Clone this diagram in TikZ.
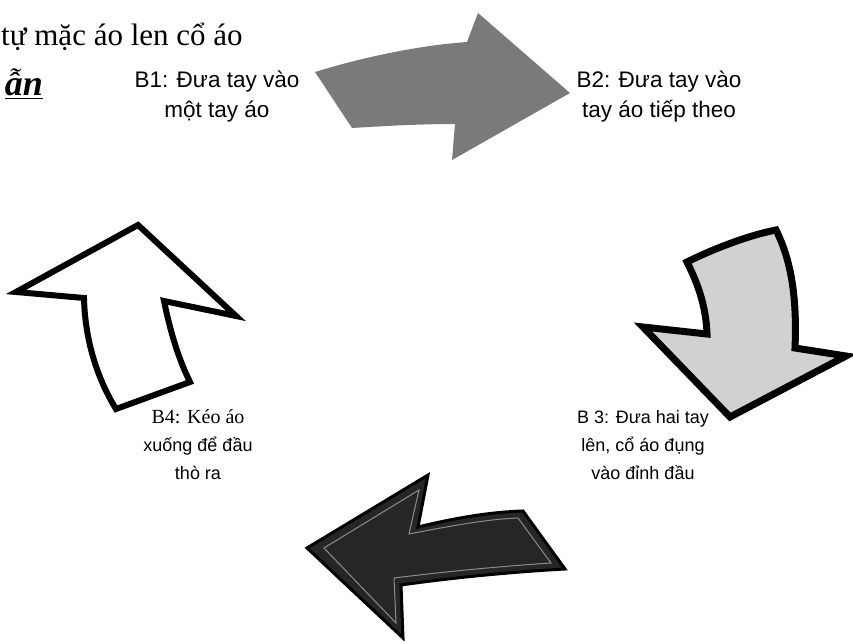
\documentclass[tikz,border=0pt]{standalone}
\usepackage{fontspec}
\setmainfont{Liberation Serif}
\newfontfamily\labelfont{Liberation Sans}
\newfontfamily\seriflabel{Liberation Serif}
\begin{document}
\begin{tikzpicture}[x=1pt,y=-1pt,
  steplabel/.style={font=\labelfont\fontsize{22.5}{30}\selectfont, align=center, anchor=base, inner sep=0pt},
  smalllabel/.style={steplabel, font=\labelfont\fontsize{18}{28}\selectfont},
  greyarrow/.style={fill=black!52, draw=none},
  lightarrow/.style={fill=black!18, draw=black, line width=7pt, line join=miter},
  darkarrow/.style={fill=black!85, draw=black, line width=3pt, line join=miter},
  bevel/.style={draw=black!45, line width=1pt, line join=miter},
  whitearrow/.style={fill=white, draw=black, line width=6pt, line join=miter}]
\useasboundingbox (0,0) rectangle (853,644);

% heading fragments
\node[anchor=base west, inner sep=0pt, font=\fontsize{31}{36}\selectfont] (title) at (1,46) {tự mặc áo len cổ áo};
\node[anchor=base east, inner sep=0pt, font=\fontsize{36}{40}\selectfont\bfseries\itshape] (guide) at (43,96) {\underline{ẫn}};

% step 1 -> 2: grey arrow pointing right
\path[greyarrow] (315,72) .. controls (370,55) and (425,45) .. (467,42)
  -- (478,13) -- (570,93) -- (452,160) -- (455,124)
  .. controls (420,124) and (385,126) .. (352,128) -- cycle;

% step 2 -> 3: curved arrow pointing down
\path[lightarrow] (687,262) .. controls (715,248) and (750,235) .. (776,230)
  .. controls (792,262) and (797,300) .. (795,348) -- (846,356) -- (730,417)
  -- (643,327) -- (707,334) .. controls (706,305) and (697,282) .. (687,262) -- cycle;

% step 3 -> 4: dark arrow pointing left, with a faint inner bevel
\path[darkarrow] (307,548) -- (428,475) -- (418,527)
  .. controls (455,518) and (490,512) .. (523,511) -- (565,569)
  .. controls (510,572) and (450,578) .. (401,585) -- (403,638) -- cycle;
\path[bevel] (324,548) -- (419,490) -- (409,534)
  .. controls (455,525) and (490,519) .. (518,518) -- (551,563)
  .. controls (505,566) and (450,571) .. (394,578) -- (396,623) -- cycle;

% step 4 -> 1: white arrow pointing up
\path[whitearrow] (16,292) -- (138,225) -- (236,316) -- (164,301)
  .. controls (170,330) and (178,358) .. (190,382) -- (116,409)
  .. controls (97,378) and (85,340) .. (84,298) -- cycle;

% step labels (anchored at the baseline of the last line)
\node[steplabel] (b1) at (217,118) {B1: Đưa tay vào\\một tay áo};
\node[steplabel] (b2) at (659,118) {B2: Đưa tay vào\\tay áo tiếp theo};
\node[smalllabel] (b3) at (643,479) {B 3: Đưa hai tay\\lên, cổ áo đụng\\vào đỉnh đầu};
\node[smalllabel] (b4) at (198,479) {{\seriflabel\fontsize{20}{28}\selectfont B4: Kéo áo}\\xuống để đầu\\thò ra};
\end{tikzpicture}
\end{document}
